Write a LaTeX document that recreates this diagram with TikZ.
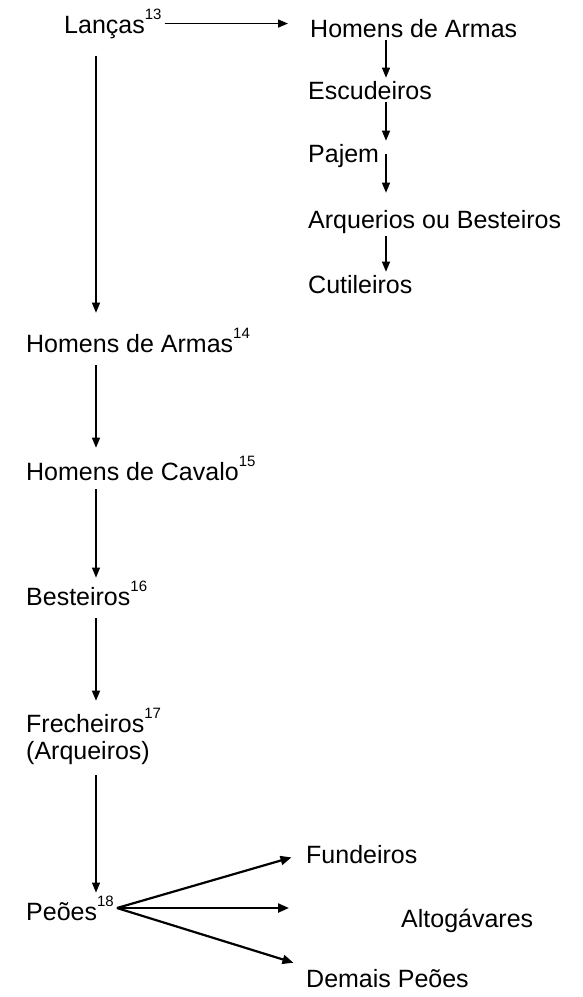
\documentclass[tikz,border=0pt]{standalone}
\usepackage{fontspec}
\setmainfont{Liberation Sans}
\usetikzlibrary{calc,arrows.meta,positioning}
\tikzstyle{every node}+=[inner sep=3pt,font=\fontsize{25}{30}\selectfont]
\tikzstyle{lbl}=[anchor=base west]
\tikzstyle{arr}=[line width=1.1pt,-{Triangle[length=10pt,width=8pt]}]
\tikzstyle{fan}=[line width=2.2pt,-{Triangle[length=11pt,width=9pt]}]
\newcommand{\supnum}[1]{\raisebox{0.55em}{\fontsize{15}{15}\selectfont #1}}
\begin{document}
\begin{tikzpicture}[x=1pt,y=-1pt]
\useasboundingbox (0,0) rectangle (582,997);

\coordinate (colL) at (96,0);
\coordinate (colR) at (386,0);

\node[lbl] (lancas) at (61,33) {Lanças\supnum{13}};
\node[lbl] (armasR) at (307,37) {Homens de Armas};
\node[lbl] (escud) at (305,99) {Escudeiros};
\node[lbl] (pajem) at (305,162) {Pajem};
\node[lbl] (arqR) at (305,228) {Arquerios ou Besteiros};
\node[lbl] (cutil) at (305,293) {Cutileiros};

\node[lbl] (armasL) at (23,352) {Homens de Armas\supnum{14}};
\node[lbl] (cavalo) at (23,480) {Homens de Cavalo\supnum{15}};
\node[lbl] (best) at (23,605) {Besteiros\supnum{16}};
\node[lbl,align=left] (frech) at (23,759) {Frecheiros\supnum{17}\\[-3pt](Arqueiros)};
\node[lbl] (peoes) at (23,920) {Peões\supnum{18}};

\node[lbl] (fund) at (303,863) {Fundeiros};
\node[lbl] (altog) at (398,927) {Altogávares};
\node[lbl] (demais) at (303,987) {Demais Peões};

\draw[arr,line width=1.5pt,shorten >=19pt] (lancas.east) -- (lancas.east -| armasR.west);
\draw[arr] (armasR.south -| colR) -- (escud.north -| colR);
\draw[arr] (escud.south -| colR) -- (pajem.north -| colR);
\draw[arr,shorten >=14pt] ($(pajem.base -| colR)+(0,-8)$) -- (arqR.north -| colR);
\draw[arr] (arqR.south -| colR) -- (cutil.north -| colR);

\draw[arr,shorten <=14pt,shorten >=12pt] (lancas.south -| colL) -- (armasL.north -| colL);
\draw[arr,shorten <=10pt,shorten >=5pt] (armasL.south -| colL) -- (cavalo.north -| colL);
\draw[arr,shorten <=6pt] (cavalo.south -| colL) -- (best.north -| colL);
\draw[arr,shorten <=10pt,shorten >=4pt] (best.south -| colL) -- (frech.north -| colL);
\draw[arr,shorten <=8pt] (frech.south -| colL) -- (peoes.north -| colL);

\draw[fan,shorten >=12pt] (peoes.east) -- (fund.west);
\draw[fan,shorten >=14pt] (peoes.east) -- (peoes.east -| fund.west);
\draw[fan,shorten >=10pt] (peoes.east) -- (demais.north west);
\end{tikzpicture}
\end{document}
